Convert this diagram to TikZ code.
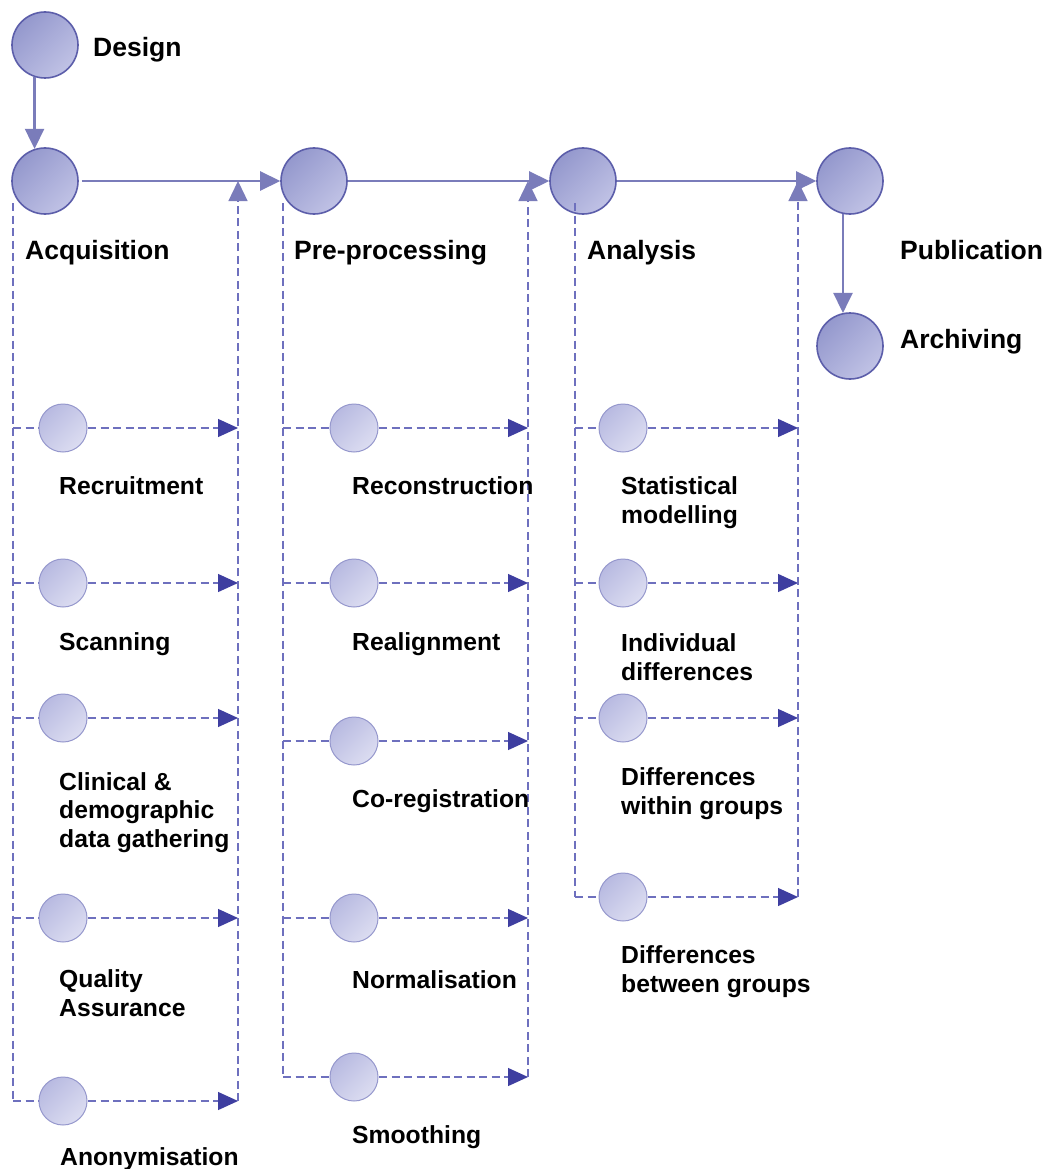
\documentclass[tikz,border=0pt]{standalone}
\usepackage{fontspec}
\setmainfont{Liberation Sans}
\usetikzlibrary{arrows.meta,calc}

\definecolor{bigdark}{RGB}{148,152,205}
\definecolor{biglight}{RGB}{192,194,229}
\definecolor{bigrim}{RGB}{92,94,170}
\definecolor{smalldark}{RGB}{184,186,225}
\definecolor{smalllight}{RGB}{220,221,241}
\definecolor{smallrim}{RGB}{150,152,205}
\definecolor{flowline}{RGB}{122,124,186}
\definecolor{busline}{RGB}{110,112,190}
\definecolor{tipblue}{RGB}{62,62,160}

\tikzset{
  stage/.style={circle, inner sep=0pt, minimum size=66pt, draw=bigrim, line width=1.6pt,
    top color=bigdark, bottom color=biglight, shading angle=45},
  task/.style={circle, inner sep=0pt, minimum size=48pt, draw=smallrim, line width=1pt,
    top color=smalldark, bottom color=smalllight, shading angle=45},
  mainlab/.style={anchor=base west, inner sep=0pt, font=\fontsize{26.5}{29}\selectfont\bfseries},
  % multi-line labels are placed by the baseline of their last line
  sublab/.style={anchor=base west, inner sep=0pt, align=left, font=\fontsize{24.7}{28.5}\selectfont\bfseries},
  flow/.style={draw=flowline, line width=2.5pt, -{Triangle[length=20pt,width=19pt]}},
  bus/.style={draw=busline, line width=1.3pt, dash pattern=on 8pt off 4.5pt},
  busarrow/.style={bus, -{Triangle[length=20pt,width=18pt,color=tipblue]}},
  busup/.style={bus, -{Triangle[length=20pt,width=19pt,color=flowline]}},
}

\begin{document}
\begin{tikzpicture}[x=1pt,y=-1pt]
\useasboundingbox (0,0) rectangle (1049,1169);
\fill[white] (0,0) rectangle (1049,1169);

% main stages
\node[stage] (des) at (45,45) {};
\node[stage] (acq) at (45,181) {};
\node[stage] (pre) at (314,181) {};
\node[stage] (ana) at (583,181) {};
\node[stage] (pub) at (850,181) {};
\node[stage] (arc) at (850,346) {};

% junctions on the main flow line where the task buses return
\coordinate (aJoin) at (238,181);
\coordinate (pJoin) at (528,181);
\coordinate (nJoin) at (798,181);

% acquisition tasks
\coordinate (aTop) at (13,203);
\foreach \i/\y in {1/428,2/583,3/718,4/918,5/1101} {
  \coordinate (aL\i) at (13,\y);
  \coordinate (aR\i) at (238,\y);
  \draw[bus] (aL\i) -- (63,\y);
  \draw[busarrow] (63,\y) -- (aR\i);
  \node[task] (a\i) at (63,\y) {};
}
\draw[bus] (aTop) -- (aL5);
\draw[busup] (aR5) -- (aJoin);

% pre-processing tasks
\coordinate (pTop) at (283,203);
\foreach \i/\y in {1/428,2/583,3/741,4/918,5/1077} {
  \coordinate (pL\i) at (283,\y);
  \coordinate (pR\i) at (528,\y);
  \draw[bus] (pL\i) -- (354,\y);
  \draw[busarrow] (354,\y) -- (pR\i);
  \node[task] (p\i) at (354,\y) {};
}
\draw[bus] (pTop) -- (pL5);
\draw[busup] (pR5) -- (pJoin);

% analysis tasks
\coordinate (nTop) at (575,203);
\foreach \i/\y in {1/428,2/583,3/718,4/897} {
  \coordinate (nL\i) at (575,\y);
  \coordinate (nR\i) at (798,\y);
  \draw[bus] (nL\i) -- (623,\y);
  \draw[busarrow] (623,\y) -- (nR\i);
  \node[task] (n\i) at (623,\y) {};
}
\draw[bus] (nTop) -- (nL4);
\draw[busup] (nR4) -- (nJoin);

% main flow
\draw[flow] (des.252) -- (acq.108);
\draw[flow, shorten <=3pt] (acq.east) -- (pre.west);
\draw[flow] (pre.east) -- (ana.west);
\draw[flow] (ana.east) -- (pub.west);
\draw[flow] (pub.258) -- (arc.102);

% stage labels
\node[mainlab] (tDes) at (93,57) {Design};
\node[mainlab] (tAcq) at (25,259) {Acquisition};
\node[mainlab] (tPre) at (294,259) {Pre-processing};
\node[mainlab] (tAna) at (587,259) {Analysis};
\node[mainlab] (tPub) at (900,259) {Publication};
\node[mainlab] (tArc) at (900,348) {Archiving};

% task labels
\node[sublab] (ta1) at (59,494) {Recruitment};
\node[sublab] (ta2) at (59,650) {Scanning};
\node[sublab] (ta3) at (59,847) {Clinical \&\\demographic\\data gathering};
\node[sublab] (ta4) at (59,1016) {Quality\\Assurance};
\node[sublab] (ta5) at (60,1165) {Anonymisation};

\node[sublab] (tp1) at (352,494) {Reconstruction};
\node[sublab] (tp2) at (352,650) {Realignment};
\node[sublab] (tp3) at (352,807) {Co-registration};
\node[sublab] (tp4) at (352,988) {Normalisation};
\node[sublab] (tp5) at (352,1143) {Smoothing};

\node[sublab] (tn1) at (621,523) {Statistical\\modelling};
\node[sublab] (tn2) at (621,680) {Individual\\differences};
\node[sublab] (tn3) at (621,814) {Differences\\within groups};
\node[sublab] (tn4) at (621,992) {Differences\\between groups};
\end{tikzpicture}
\end{document}
